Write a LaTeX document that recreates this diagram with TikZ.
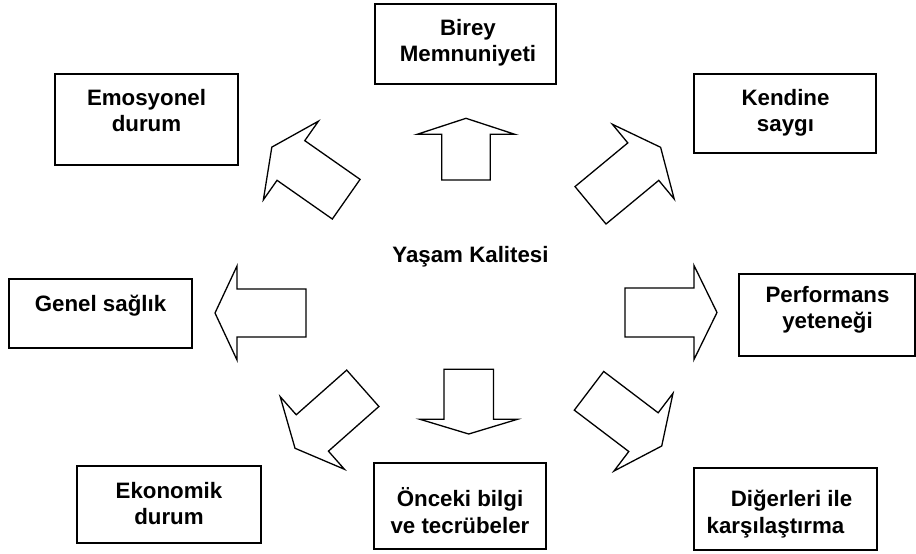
\documentclass[tikz,border=0pt]{standalone}
\usepackage{fontspec}
\setmainfont{Liberation Sans}
\begin{document}
\begin{tikzpicture}[x=1pt,y=-1pt,
  boxst/.style={draw=black, line width=1.8pt, inner sep=0pt, fill=white},
  txt/.style={font=\fontsize{22.3}{26.7}\selectfont\bfseries, align=center, inner sep=0pt},
  arrowline/.style={draw=black, line width=1.3pt, line join=miter, fill=white},
  pics/blk/.style n args={4}{code={
    \draw[arrowline] (0,-#3) -- (#1,-#3) -- (#1,-#4) -- (#2,0) -- (#1,#4) -- (#1,#3) -- (0,#3) -- cycle;}}
]
\useasboundingbox (0,0) rectangle (916,554);
\fill[white] (0,0) rectangle (916,554);

% boxes
\node[boxst, minimum width=181pt, minimum height=80pt] (bir) at (465.5,44) {};
\node[boxst, minimum width=183pt, minimum height=91pt] (emo) at (146.5,119.5) {};
\node[boxst, minimum width=182pt, minimum height=79pt] (ken) at (785,113.5) {};
\node[boxst, minimum width=183pt, minimum height=69pt] (gen) at (100.5,313.5) {};
\node[boxst, minimum width=176pt, minimum height=82pt] (per) at (827,315) {};
\node[boxst, minimum width=184pt, minimum height=77pt] (eko) at (169,504.5) {};
\node[boxst, minimum width=171.7pt, minimum height=86.6pt] (onc) at (459.9,506) {};
\node[boxst, minimum width=182.7pt, minimum height=81.7pt] (dig) at (785.3,509.2) {};

% texts
\node[txt, anchor=north] (bir-t) at (468,19) {\rule{0pt}{16pt}\smash{Birey}\\Memnuniyeti};
\node[txt, anchor=north] (emo-t) at (146.5,89) {\rule{0pt}{16pt}\smash{Emosyonel}\\durum};
\node[txt, anchor=north] (ken-t) at (785.5,89) {\rule{0pt}{16pt}\smash{Kendine}\\saygı};
\node[txt, anchor=base] (gen-t) at (100.5,311) {Genel sağlık};
\node[txt, anchor=north] (per-t) at (827.5,286) {\rule{0pt}{16pt}\smash{Performans}\\yeteneği};
\node[txt, anchor=north] (eko-t) at (169,482) {\rule{0pt}{16pt}\smash{Ekonomik}\\durum};
\node[txt, anchor=north] (onc-t) at (460,490.7) {\rule{0pt}{16pt}\smash{Önceki bilgi}\\ve tecrübeler};
\node[txt, anchor=north] (dig-t) at (783.5,490.7) {\rule{0pt}{16pt}\smash{\hspace*{16pt}Diğerleri ile}\\karşılaştırma\hspace*{16pt}};
\node[txt, anchor=base] (yk) at (470.5,262) {Yaşam Kalitesi};

% block arrows
\pic[rotate=90] (aup) at (466,180) {blk={45.7}{61.7}{24.2}{48.8}};
\pic[rotate=-90] (adn) at (468.7,369.3) {blk={50}{64.7}{24.7}{48.7}};
\pic[rotate=180] (alf) at (306,313) {blk={69}{91}{24}{47}};
\pic[rotate=0] (art) at (625,312.5) {blk={69}{92}{24.5}{47}};
\pic[rotate=145] (aul) at (346.2,199.2) {blk={67.5}{90.8}{24.2}{48}};
\pic[rotate=39.6] (aur) at (590.5,205.3) {blk={68.5}{91}{24.3}{48.5}};
\pic[rotate=221.5] (all) at (362.8,388.3) {blk={67.4}{90.5}{24.3}{48.5}};
\pic[rotate=-37.2] (alr) at (589,390.8) {blk={68.4}{91.3}{24.3}{48.8}};
\end{tikzpicture}
\end{document}
